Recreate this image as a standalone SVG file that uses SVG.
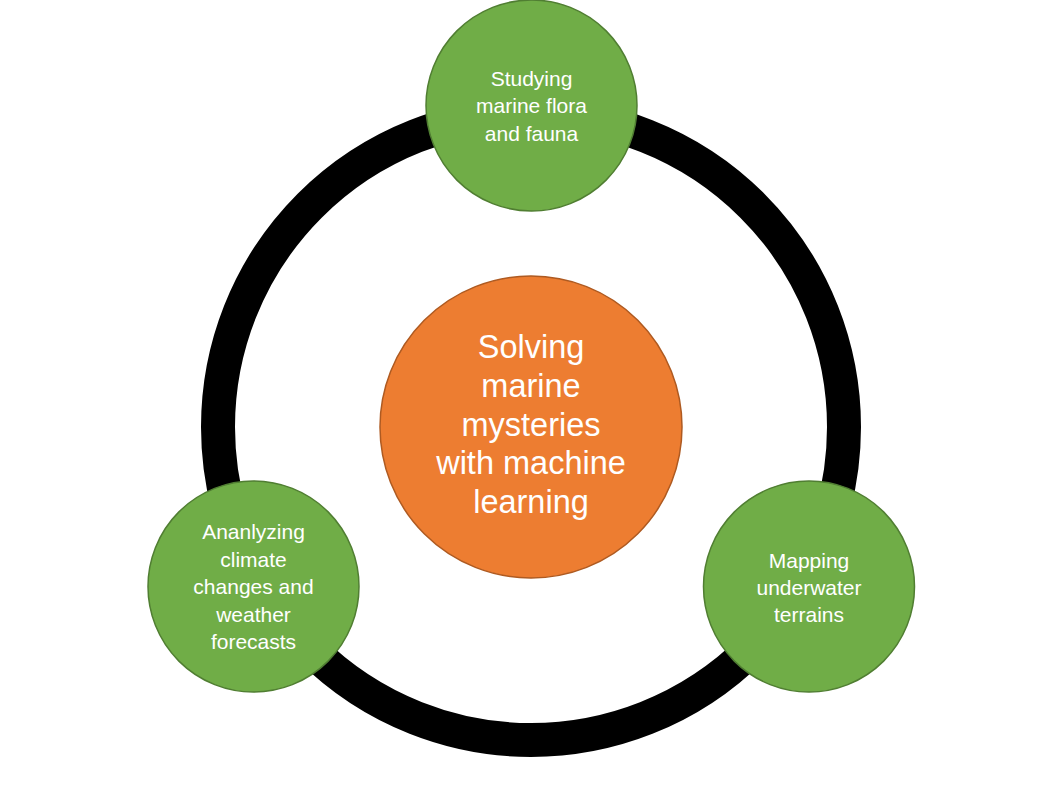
<svg xmlns="http://www.w3.org/2000/svg" width="1062" height="795" viewBox="0 0 1062 795">
<style>
.green{fill:#70AD47;stroke:#507E32;stroke-width:1.5}
.orange{fill:#ED7D31;stroke:#AE5A21;stroke-width:1.5}
.ring{fill:none;stroke:#000;stroke-width:34}
text{font-family:"Liberation Sans",Arial,sans-serif;fill:#fff;text-anchor:middle}
.s{font-size:21px}
.l{font-size:32.5px}
</style>
<rect width="1062" height="795" fill="#fff"/>
<g id="connectors">
<circle class="ring" cx="531" cy="427" r="313"/>
</g>
<g id="center">
<circle class="orange" cx="531" cy="427" r="151"/>
<text class="l" x="531" y="358">Solving</text>
<text class="l" x="531" y="397">marine</text>
<text class="l" x="531" y="436">mysteries</text>
<text class="l" x="531" y="474">with machine</text>
<text class="l" x="531" y="513">learning</text>
</g>
<g id="top">
<circle class="green" cx="531.5" cy="105.5" r="105.5"/>
<text class="s" x="531.5" y="86">Studying</text>
<text class="s" x="531.5" y="113">marine flora</text>
<text class="s" x="531.5" y="141">and fauna</text>
</g>
<g id="left">
<circle class="green" cx="253.5" cy="586.5" r="105.5"/>
<text class="s" x="253.5" y="539">Ananlyzing</text>
<text class="s" x="253.5" y="567">climate</text>
<text class="s" x="253.5" y="594">changes and</text>
<text class="s" x="253.5" y="622">weather</text>
<text class="s" x="253.5" y="649">forecasts</text>
</g>
<g id="right">
<circle class="green" cx="809" cy="586.5" r="105.5"/>
<text class="s" x="809" y="568">Mapping</text>
<text class="s" x="809" y="595">underwater</text>
<text class="s" x="809" y="622">terrains</text>
</g>
</svg>
